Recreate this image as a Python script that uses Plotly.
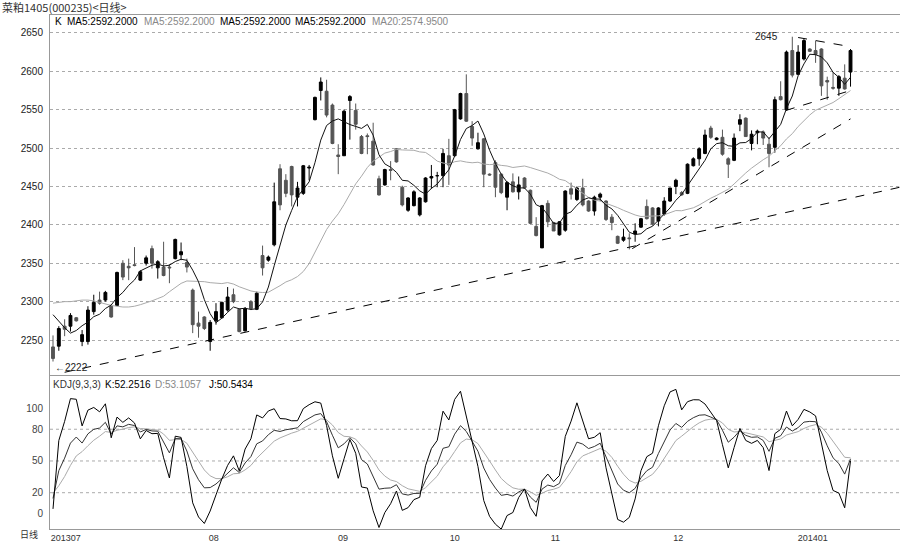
import plotly.graph_objects as go
import pandas as pd

# ---------------- data ----------------
open_ = [2241,2242,2268,2268,2279,2248,2248,2287,2302,2302,2294,2295,2350,2346,2348,2328,2350,2369,2344,2345,
         2345,2356,2361,2351,2315,2272,2280,2248,2275,2279,2289,2309,2290,2262,2300,2290,2360,2354,2374,2473,
         2458,2476,2436,2441,2474,2537,2575,2574,2556,2491,2490,2562,2549,2515,2516,2509,2460,2452,2472,2499,
         2449,2419,2425,2413,2430,2461,2464,2464,2490,2490,2538,2571,2528,2499,2512,2466,2481,2466,2436,2456,
         2443,2461,2445,2398,2370,2428,2403,2387,2393,2447,2433,2448,2431,2418,2436,2431,2410,2385,2380,2383,
         2388,2397,2424,2422,2405,2414,2431,2450,2442,2441,2477,2486,2493,2526,2511,2514,2486,2484,2531,2539,
         2506,2520,2521,2505,2501,2567,2550,2627,2596,2616,2629,2627,2629,2588,2579,2578,2591,2599]
high = [2256,2268,2277,2285,2280,2263,2294,2309,2313,2314,2296,2339,2354,2356,2371,2341,2360,2373,2354,2378,
        2349,2382,2377,2356,2317,2287,2281,2276,2298,2300,2319,2317,2291,2293,2302,2313,2373,2360,2455,2479,
        2466,2477,2456,2478,2478,2567,2592,2589,2558,2505,2550,2569,2558,2517,2519,2533,2464,2473,2483,2500,
        2451,2436,2445,2436,2462,2478,2469,2499,2512,2551,2572,2596,2535,2520,2513,2467,2484,2467,2457,2467,
        2463,2462,2446,2410,2426,2432,2404,2405,2445,2455,2450,2460,2432,2438,2442,2432,2414,2386,2395,2389,
        2402,2409,2433,2423,2423,2436,2448,2460,2444,2480,2488,2501,2524,2529,2514,2524,2488,2519,2544,2540,
        2523,2524,2523,2514,2567,2587,2627,2645,2634,2642,2630,2640,2630,2593,2599,2595,2609,2629]
low = [2222,2236,2255,2261,2274,2242,2244,2283,2296,2300,2279,2294,2328,2328,2346,2327,2347,2343,2330,2333,
       2324,2355,2354,2338,2259,2253,2263,2236,2270,2278,2287,2298,2260,2261,2289,2289,2334,2352,2372,2419,
       2436,2424,2424,2439,2458,2536,2562,2540,2505,2466,2490,2511,2524,2492,2492,2477,2438,2451,2458,2481,
       2424,2417,2424,2411,2429,2447,2449,2449,2452,2489,2537,2534,2503,2498,2449,2464,2436,2440,2419,2442,
       2433,2447,2401,2385,2370,2397,2392,2386,2391,2433,2431,2424,2417,2412,2431,2405,2393,2375,2378,2368,
       2378,2396,2407,2399,2398,2412,2430,2440,2438,2440,2476,2477,2492,2512,2510,2490,2461,2483,2522,2515,
       2497,2505,2504,2475,2494,2562,2549,2592,2595,2614,2625,2611,2568,2563,2576,2568,2576,2580]
close = [2226,2265,2264,2282,2275,2257,2289,2299,2298,2312,2280,2338,2332,2344,2347,2339,2357,2350,2352,2334,
         2344,2381,2365,2345,2270,2268,2265,2273,2287,2299,2306,2300,2261,2291,2291,2311,2344,2358,2430,2426,
         2441,2439,2448,2477,2475,2566,2586,2543,2506,2489,2548,2567,2531,2493,2515,2478,2439,2472,2471,2482,
         2426,2435,2443,2435,2461,2463,2464,2493,2478,2550,2571,2535,2513,2507,2466,2465,2449,2442,2455,2443,
         2452,2448,2402,2386,2425,2404,2392,2404,2444,2440,2448,2426,2418,2436,2440,2407,2403,2376,2384,2382,
         2392,2408,2408,2401,2422,2431,2448,2458,2439,2479,2486,2499,2517,2514,2513,2492,2479,2513,2537,2515,
         2518,2522,2513,2493,2563,2563,2625,2595,2625,2640,2626,2622,2581,2586,2578,2593,2577,2627]

# moving-average values before a full window exists
ma5_lead = [2283, 2274, 2266, 2259]
ma20_lead = [2298, 2299, 2300, 2300, 2301, 2302, 2302, 2301, 2299, 2297,
             2295, 2294, 2293, 2293, 2294, 2296, 2298, 2301, 2304]
kdj_lead = (16, 22)  # K and D levels just before the first bar

# month tick labels (bar index, text)
month_pos = [2.2, 27.6, 49.8, 69.0, 86.3, 107.4, 130.5]
month_txt = ["201307", "08", "09", "10", "11", "12", "201401"]

# hand-drawn trend lines: ((bar, price), (bar, price))
trend_lines = [((2.0, 2208), (145.5, 2449)),
               ((99.5, 2369), (137.0, 2538)),
               ((128.0, 2644), (137.0, 2632)),
               ((125.9, 2549), (137.0, 2575))]

price_ticks = [2250, 2300, 2350, 2400, 2450, 2500, 2550, 2600, 2650]
kdj_ticks = [0, 20, 50, 80, 100]
kdj_grid = [20, 50, 80]

# ---------------- derived series ----------------
n = len(close)
idx = list(range(n))
c = pd.Series(close, dtype=float)
h = pd.Series(high, dtype=float)
l = pd.Series(low, dtype=float)
ma5 = c.rolling(5).mean()
ma5.iloc[:4] = ma5_lead
ma20 = c.rolling(20).mean()
ma20.iloc[:19] = ma20_lead

llv = l.rolling(9, min_periods=1).min()
hhv = h.rolling(9, min_periods=1).max()
rsv = (c - llv) / (hhv - llv) * 100
K, D = [], []
kp, dp = kdj_lead
for r in rsv:
    kp = 2 / 3 * kp + r / 3
    dp = 2 / 3 * dp + kp / 3
    K.append(kp)
    D.append(dp)
K = pd.Series(K)
D = pd.Series(D)
J = 3 * K - 2 * D

# ---------------- figure ----------------
fig = go.Figure()
fig.add_trace(go.Candlestick(
    x=idx, open=open_, high=high, low=low, close=close,
    increasing=dict(line=dict(color="#000000", width=1), fillcolor="#000000"),
    decreasing=dict(line=dict(color="#555555", width=1), fillcolor="#555555"),
    whiskerwidth=0, xaxis="x", yaxis="y", hoverinfo="skip"))
fig.add_trace(go.Scatter(x=idx, y=ma20, mode="lines", line=dict(color="#aaaaaa", width=1),
                         xaxis="x", yaxis="y"))
fig.add_trace(go.Scatter(x=idx, y=ma5, mode="lines", line=dict(color="#111111", width=1),
                         xaxis="x", yaxis="y"))
for (x0, y0), (x1, y1) in trend_lines:
    fig.add_trace(go.Scatter(x=[x0, x1], y=[y0, y1], mode="lines",
                             line=dict(color="#000000", width=1, dash="dash"),
                             xaxis="x", yaxis="y"))

fig.add_trace(go.Scatter(x=idx, y=D, mode="lines", line=dict(color="#aaaaaa", width=1),
                         xaxis="x2", yaxis="y2"))
fig.add_trace(go.Scatter(x=idx, y=K, mode="lines", line=dict(color="#333333", width=1),
                         xaxis="x2", yaxis="y2"))
fig.add_trace(go.Scatter(x=idx, y=J, mode="lines", line=dict(color="#000000", width=1),
                         xaxis="x2", yaxis="y2"))

for g in kdj_grid:
    fig.add_shape(type="line", xref="x2", yref="y2", x0=-0.515, x1=145.5, y0=g, y1=g,
                  line=dict(color="#aaaaaa", width=1, dash="dot"), layer="below")

W, H = 900, 543
L_, T_, B_ = 50, 15, 11
PH = H - T_ - B_


def px(x):
    return (x - L_) / (W - L_)


def py(y):
    return (H - B_ - y) / PH


ann = []
font_sans = "Liberation Sans, Arial, sans-serif"
ann.append(dict(text="菜粕1405(000235)<日线>", x=px(0), y=py(7), xref="paper", yref="paper",
                xanchor="left", yanchor="middle", showarrow=False,
                font=dict(family="Noto Sans CJK SC", size=11, color="#333333")))
header = [("K", 53, "#000000"), ("MA5:2592.2000", 65, "#000000"), ("MA5:2592.2000", 142, "#888888"),
          ("MA5:2592.2000", 218, "#000000"), ("MA5:2592.2000", 293, "#000000"),
          ("MA20:2574.9500", 370, "#888888")]
for t, x0, col in header:
    ann.append(dict(text=t, x=px(x0), y=py(22), xref="paper", yref="paper", xanchor="left",
                    yanchor="middle", showarrow=False, font=dict(family=font_sans, size=10, color=col)))
kdj_header = [("KDJ(9,3,3)", 51, "#333333"), ("K:52.2516", 103, "#000000"),
              ("D:53.1057", 153, "#888888"), ("J:50.5434", 207, "#000000")]
for t, x0, col in kdj_header:
    ann.append(dict(text=t, x=px(x0), y=py(387), xref="paper", yref="paper", xanchor="left",
                    yanchor="middle", showarrow=False, font=dict(family=font_sans, size=10, color=col)))
ann.append(dict(text="日线", x=px(40), y=py(538), xref="paper", yref="paper", xanchor="right",
                yanchor="middle", showarrow=False,
                font=dict(family="Noto Sans CJK SC", size=9, color="#333333")))
ann.append(dict(text="2645", x=124.9, y=max(high), xref="x", yref="y", xanchor="right",
                yanchor="middle", showarrow=False, font=dict(family=font_sans, size=10, color="#222222")))
ann.append(dict(text="←" + str(min(low)), x=0, y=min(low) - 8, xref="x", yref="y", xanchor="left",
                yanchor="middle", showarrow=False, font=dict(family=font_sans, size=10, color="#222222")))

xr = [-0.515, 145.5]
fig.update_layout(
    width=W, height=H, margin=dict(l=L_, r=0, t=T_, b=B_),
    paper_bgcolor="white", plot_bgcolor="white", showlegend=False,
    annotations=ann, hovermode=False,
    xaxis=dict(domain=[0, 1], range=xr, anchor="y", showticklabels=False, showgrid=False,
               zeroline=False, rangeslider=dict(visible=False), showline=True, mirror=True,
               linecolor="#999999", linewidth=1, ticks=""),
    yaxis=dict(domain=[0.3, 1], range=[2204.7, 2673.3], anchor="x", tickvals=price_ticks,
               showgrid=True, gridcolor="#aaaaaa", griddash="dot", gridwidth=1, zeroline=False,
               showline=True, linecolor="#999999", linewidth=1, ticks="",
               tickfont=dict(family=font_sans, size=10, color="#222222"), ticklabelstandoff=4),
    xaxis2=dict(domain=[0, 1], range=xr, anchor="y2", matches="x", tickvals=month_pos,
                ticktext=month_txt, showgrid=False, zeroline=False, showline=True, mirror=True,
                linecolor="#999999", linewidth=1, ticks="",
                tickfont=dict(family=font_sans, size=9, color="#333333"), ticklabelstandoff=0),
    yaxis2=dict(domain=[0, 0.298], range=[-14.3, 130.5], anchor="x2", tickvals=kdj_ticks,
                showgrid=False, zeroline=False, showline=True, linecolor="#999999", linewidth=1,
                ticks="", tickfont=dict(family=font_sans, size=10, color="#444444"),
                ticklabelstandoff=4),
)

print("K,D,J end:", K.iloc[-1], D.iloc[-1], J.iloc[-1])
fig.write_html("out.html")
